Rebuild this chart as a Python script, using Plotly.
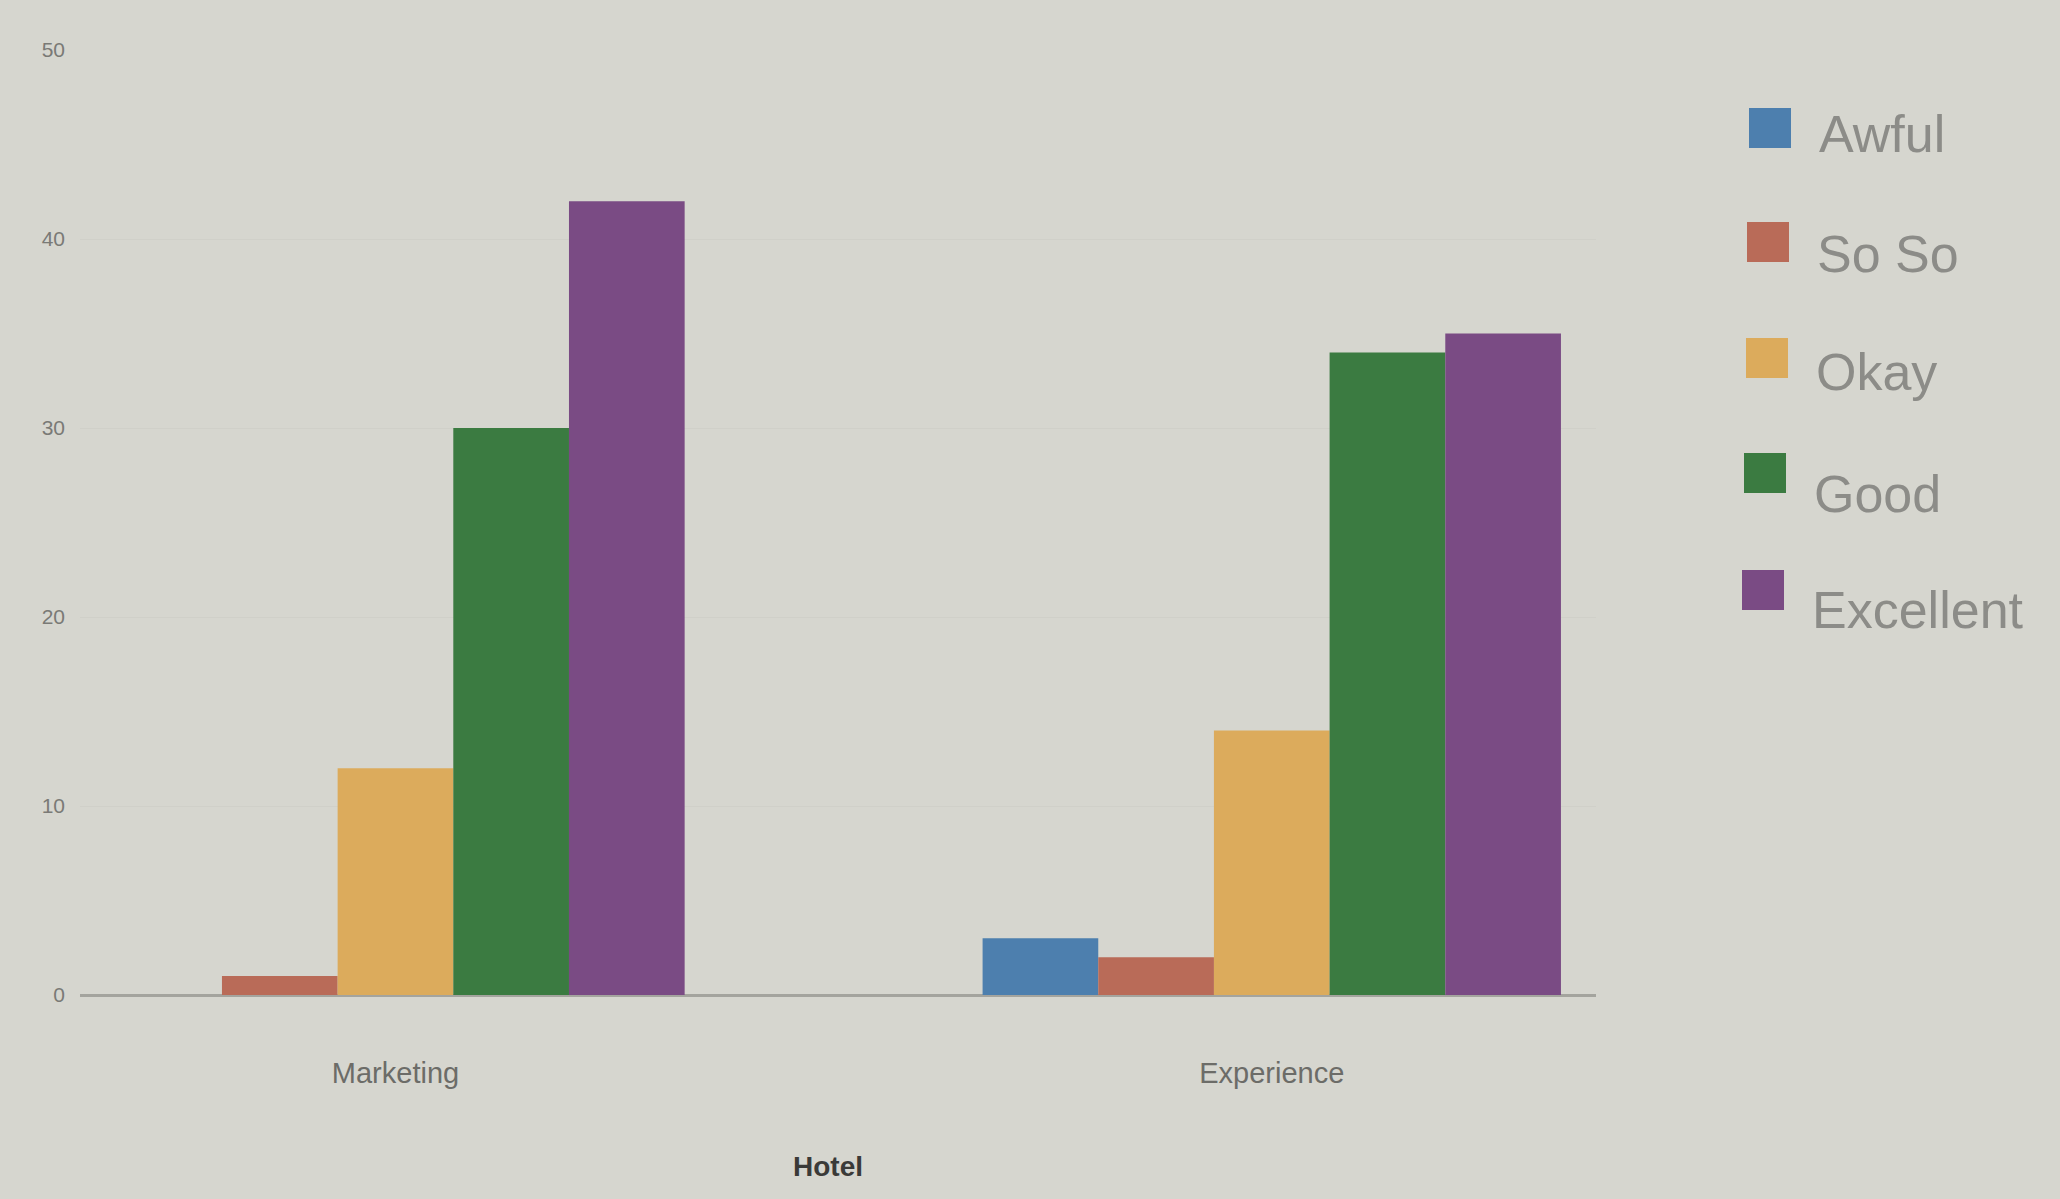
import plotly.graph_objects as go

# Ratings per hotel area
categories = ["Marketing", "Experience"]
ratings = ["Awful", "So So", "Okay", "Good", "Excellent"]
awful = [0, 3]
so_so = [1, 2]
okay = [12, 14]
good = [30, 34]
excellent = [42, 35]
y_ticks = [0, 10, 20, 30, 40, 50]

series = [awful, so_so, okay, good, excellent]
colors = ["#4d7fae", "#b96b58", "#dcab5c", "#3b7b41", "#7a4b84"]

W, H = 2060, 1199
ML, MR, MT, MB = 80, 464, 50, 204
plot_w = W - ML - MR
plot_h = H - MT - MB


def px_x(px):
    return (px - ML) / plot_w


def px_y(py):
    return (H - MB - py) / plot_h


fig = go.Figure()
for name, vals, col in zip(ratings, series, colors):
    fig.add_trace(go.Bar(
        x=categories, y=vals, name=name,
        marker=dict(color=col, line=dict(width=0)),
        showlegend=False,
    ))

# Hand-drawn legend: large squares with labels on the right
legend_sq_y = [128, 242, 358, 473, 590]
legend_tx_y = [134, 254, 372, 494, 610]
legend_sq_x = [1749, 1747, 1746, 1744, 1742]
shapes = []
annotations = []
for i, (name, col) in enumerate(zip(ratings, colors)):
    cy = legend_sq_y[i]
    x0 = legend_sq_x[i]
    shapes.append(dict(
        type="rect", xref="paper", yref="paper",
        x0=px_x(x0), x1=px_x(x0 + 42),
        y0=px_y(cy + 20), y1=px_y(cy - 20),
        fillcolor=col, line=dict(width=0),
    ))
    annotations.append(dict(
        text=name, xref="paper", yref="paper",
        x=px_x(x0 + 68), y=px_y(legend_tx_y[i]),
        xanchor="left", yanchor="middle", showarrow=False,
        font=dict(family="Liberation Sans, Arial, sans-serif", size=52, color="#8c8c88"),
    ))

# Axis title
annotations.append(dict(
    text="<b>Hotel</b>", xref="paper", yref="paper",
    x=px_x(828), y=px_y(1166), xanchor="center", yanchor="middle",
    showarrow=False,
    font=dict(family="Liberation Sans, Arial, sans-serif", size=28, color="#3a3a38"),
))

fig.update_layout(
    width=W, height=H,
    margin=dict(l=ML, r=MR, t=MT, b=MB),
    paper_bgcolor="#d6d6cf",
    plot_bgcolor="#d6d6cf",
    barmode="group",
    bargap=0.34,
    bargroupgap=0.0,
    shapes=shapes,
    annotations=annotations,
    font=dict(family="Liberation Sans, Arial, sans-serif"),
)
fig.update_xaxes(
    range=[-0.36, 1.37],
    showgrid=False,
    showline=False,
    zeroline=False,
    ticks="",
    ticklabelstandoff=58,
    tickfont=dict(size=29, color="#6c6c68"),
)
fig.update_yaxes(
    range=[0, 50],
    tickvals=y_ticks,
    showgrid=True,
    gridcolor="#d0d0c9",
    gridwidth=1,
    zeroline=True,
    zerolinecolor="#a4a49e",
    zerolinewidth=3,
    ticks="",
    ticklabelstandoff=14,
    tickfont=dict(size=21, color="#7a7a76"),
)

fig.write_html("out.html")
